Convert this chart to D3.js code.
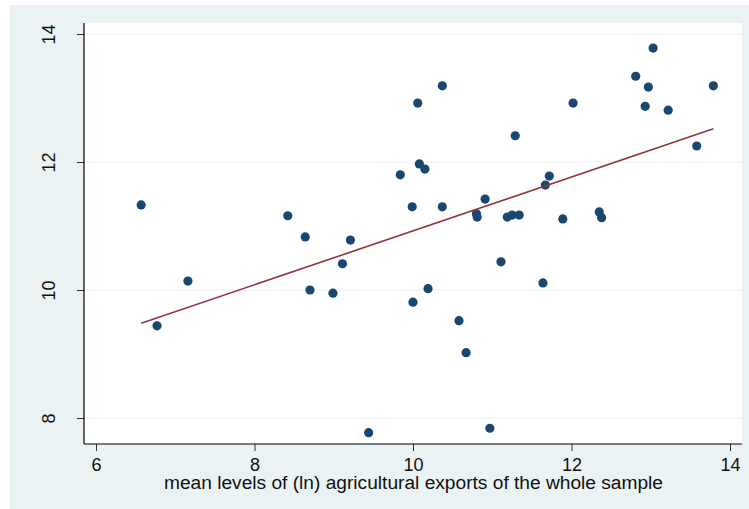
<!DOCTYPE html>
<html><head><meta charset="utf-8">
<script src="https://cdn.jsdelivr.net/npm/d3@7"></script>
<style>html,body{margin:0;padding:0;background:#fff;}svg{display:block;}</style>
</head><body>
<script>
const xValues = [6.57,6.77,7.16,8.42,8.64,8.70,8.99,9.11,9.21,9.44,9.84,9.99,10.00,10.06,10.08,10.15,10.19,10.37,10.37,10.58,10.67,10.80,10.81,10.91,10.97,11.11,11.19,11.25,11.29,11.34,11.64,11.67,11.72,11.89,12.02,12.35,12.38,12.81,12.93,12.97,13.03,13.22,13.58,13.79];
const yValues = [11.33,9.44,10.14,11.16,10.83,10.00,9.95,10.41,10.78,7.77,11.80,11.30,9.81,12.92,11.97,11.89,10.02,13.19,11.30,9.52,9.02,11.19,11.14,11.42,7.84,10.44,11.14,11.17,12.41,11.17,10.11,11.64,11.78,11.11,12.92,11.22,11.13,13.34,12.87,13.17,13.78,12.81,12.25,13.19];
const fitX = [6.57, 13.79];
const fitY = [9.48, 12.52];
const xTicks = [6, 8, 10, 12, 14];
const yTicks = [8, 10, 12, 14];
const xTitle = "mean levels of (ln) agricultural exports of the whole sample";

(function(){
const W = 749, H = 509;
const FONT = "Liberation Sans, Arial, sans-serif";
const svg = d3.select("body").append("svg").attr("width", W).attr("height", H);
svg.append("rect").attr("x",10).attr("y",5).attr("width",W-10).attr("height",H-5).attr("fill","#eaf2f3");

const x = d3.scaleLinear().domain([6,14]).range([96,730]);
const y = d3.scaleLinear().domain([8,14]).range([418,34]);
const pL = 84, pR = 742, pT = 23, pB = 444;

svg.append("rect").attr("x",pL).attr("y",pT).attr("width",pR-pL).attr("height",pB-pT).attr("fill","#fff");

// gridlines
svg.append("g").selectAll("line").data(yTicks).join("line")
  .attr("x1",pL).attr("x2",pR).attr("y1",d=>y(d)).attr("y2",d=>y(d))
  .attr("stroke","#eaf2f3").attr("stroke-width",1.2);

// axes
const xAxis = d3.axisBottom(x).tickValues(xTicks).tickSize(7).tickPadding(7).tickFormat(d3.format("d"));
const gx = svg.append("g").attr("transform",`translate(0,${pB})`).call(xAxis);
gx.select(".domain").remove();
gx.append("line").attr("x1",pL).attr("x2",pR).attr("y1",0).attr("y2",0).attr("stroke","#000").attr("stroke-width",1.2);
gx.selectAll(".tick line").attr("stroke","#333");
gx.selectAll(".tick text").attr("font-family",FONT).attr("font-size",18).attr("fill","#111");

const yAxis = d3.axisLeft(y).tickValues(yTicks).tickSize(7).tickFormat(d3.format("d"));
const gy = svg.append("g").attr("transform",`translate(${pL},0)`).call(yAxis);
gy.select(".domain").remove();
gy.append("line").attr("x1",0).attr("x2",0).attr("y1",pT).attr("y2",pB).attr("stroke","#000").attr("stroke-width",1.2);
gy.selectAll(".tick line").attr("stroke","#333");
gy.selectAll(".tick text")
  .attr("font-family",FONT).attr("font-size",18).attr("fill","#111")
  .attr("x",null)
  .attr("text-anchor","middle")
  .attr("transform","translate(-35,0) rotate(-90)")
  .attr("dy","0.35em");

svg.append("text").attr("x",413.5).attr("y",489).attr("text-anchor","middle")
  .attr("font-family",FONT).attr("font-size",18).attr("fill","#111")
  .attr("textLength",499).attr("lengthAdjust","spacingAndGlyphs")
  .text(xTitle);

// points
const data = xValues.map((v,i)=>({x:v,y:yValues[i]}));
svg.append("g").selectAll("circle").data(data).join("circle")
  .attr("cx",d=>x(d.x)).attr("cy",d=>y(d.y)).attr("r",4.6).attr("fill","#1a476f");

// fitted line
svg.append("path").datum(fitX.map((v,i)=>[v,fitY[i]]))
  .attr("d", d3.line().x(d=>x(d[0])).y(d=>y(d[1])))
  .attr("stroke","#90353b").attr("stroke-width",1.6).attr("fill","none");
})();
</script>
</body></html>
